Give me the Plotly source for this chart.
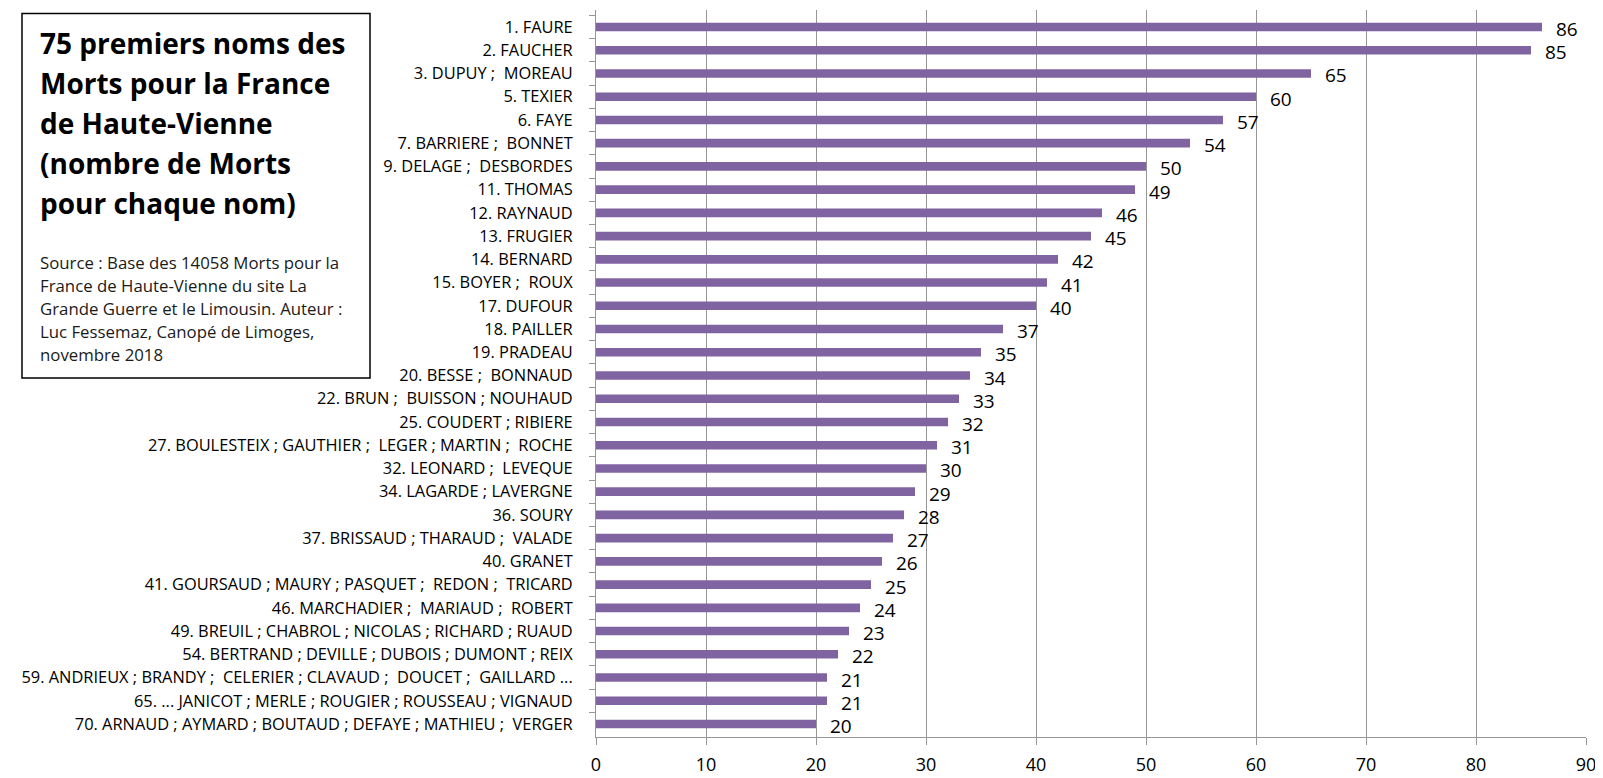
import plotly.graph_objects as go

categories = [
    "1. FAURE", "2. FAUCHER", "3. DUPUY ;  MOREAU", "5. TEXIER", "6. FAYE",
    "7. BARRIERE ;  BONNET", "9. DELAGE ;  DESBORDES", "11. THOMAS", "12. RAYNAUD",
    "13. FRUGIER", "14. BERNARD", "15. BOYER ;  ROUX", "17. DUFOUR", "18. PAILLER",
    "19. PRADEAU", "20. BESSE ;  BONNAUD", "22. BRUN ;  BUISSON ; NOUHAUD",
    "25. COUDERT ; RIBIERE", "27. BOULESTEIX ; GAUTHIER ;  LEGER ; MARTIN ;  ROCHE",
    "32. LEONARD ;  LEVEQUE", "34. LAGARDE ; LAVERGNE", "36. SOURY",
    "37. BRISSAUD ; THARAUD ;  VALADE", "40. GRANET",
    "41. GOURSAUD ; MAURY ; PASQUET ;  REDON ;  TRICARD",
    "46. MARCHADIER ;  MARIAUD ;  ROBERT",
    "49. BREUIL ; CHABROL ; NICOLAS ; RICHARD ; RUAUD",
    "54. BERTRAND ; DEVILLE ; DUBOIS ; DUMONT ; REIX",
    "59. ANDRIEUX ; BRANDY ;  CELERIER ; CLAVAUD ;  DOUCET ;  GAILLARD ...",
    "65. ... JANICOT ; MERLE ; ROUGIER ; ROUSSEAU ; VIGNAUD",
    "70. ARNAUD ; AYMARD ; BOUTAUD ; DEFAYE ; MATHIEU ;  VERGER",
]
values = [86, 85, 65, 60, 57, 54, 50, 49, 46, 45, 42, 41, 40, 37, 35, 34, 33, 32,
          31, 30, 29, 28, 27, 26, 25, 24, 23, 22, 21, 21, 20]
x_ticks = [0, 10, 20, 30, 40, 50, 60, 70, 80, 90]

title_lines = [
    "75 premiers noms des",
    "Morts pour la France",
    "de Haute-Vienne",
    "(nombre de Morts",
    "pour chaque nom)",
]
source_lines = [
    "Source : Base des 14058 Morts pour la",
    "France de Haute-Vienne du site La",
    "Grande Guerre et le Limousin. Auteur :",
    "Luc Fessemaz, Canopé de Limoges,",
    "novembre 2018",
]

OFF = 8  # page body margin
W, H = 1603 - OFF, 778 - OFF
# plot area in page pixels
PL, PR, PT, PB = 596, 1586, 9.5, 737.5
ML, MR, MT, MB = PL - OFF, W - (PR - OFF), PT - OFF, H - (PB - OFF)
PW, PH = PR - PL, PB - PT


def px_x(p):
    return (p - PL) / PW


def px_y(p):
    return (PB - p) / PH


FONT = "Open Sans"
BAR = "#8064A2"
GRID = "#969696"

fig = go.Figure(go.Bar(
    x=values, y=categories, orientation="h",
    marker=dict(color=BAR, line=dict(width=0)),
    width=0.37, hoverinfo="x+y",
))

annotations = []
for c, v in zip(categories, values):
    annotations.append(dict(
        x=v, y=c, xref="x", yref="y", text=str(v), showarrow=False,
        xanchor="left", yanchor="middle", xshift=12, yshift=-2,
        font=dict(family=FONT, size=19, color="#000000"),
    ))

title_centers = [43, 83, 123, 163, 203]
for t, yc in zip(title_lines, title_centers):
    annotations.append(dict(
        x=px_x(38), y=px_y(yc), xref="paper", yref="paper", text="<b>" + t + "</b>",
        showarrow=False, xanchor="left", yanchor="middle",
        font=dict(family=FONT, size=28, color="#000000"),
    ))
source_centers = [262, 285, 308, 331, 354]
for t, yc in zip(source_lines, source_centers):
    annotations.append(dict(
        x=px_x(38), y=px_y(yc), xref="paper", yref="paper", text=t,
        showarrow=False, xanchor="left", yanchor="middle",
        font=dict(family=FONT, size=16.8, color="#1a1a1a"),
    ))

fig.update_layout(
    width=W, height=H,
    margin=dict(l=ML, r=MR, t=MT, b=MB, autoexpand=False),
    paper_bgcolor="white", plot_bgcolor="white",
    showlegend=False,
    annotations=annotations,
    shapes=[dict(
        type="rect", xref="paper", yref="paper",
        x0=px_x(22), x1=px_x(370), y0=px_y(378), y1=px_y(13),
        line=dict(color="#000000", width=1.5), fillcolor="rgba(0,0,0,0)",
    )],
    xaxis=dict(
        range=[0, 90], tickvals=x_ticks, showgrid=True, gridcolor=GRID, gridwidth=1,
        showline=True, linecolor=GRID, linewidth=1, zeroline=False,
        ticks="outside", ticklen=7, tickcolor=GRID, ticklabelstandoff=4,
        tickfont=dict(family=FONT, size=18, color="#000000"),
    ),
    yaxis=dict(
        autorange="reversed", showgrid=False, showline=True, linecolor=GRID, linewidth=1,
        ticks="outside", ticklen=6, tickcolor=GRID, tickson="boundaries",
        ticklabelstandoff=19,
        tickfont=dict(family=FONT, size=16.4, color="#000000"),
    ),
)

fig.write_html("out.html")
